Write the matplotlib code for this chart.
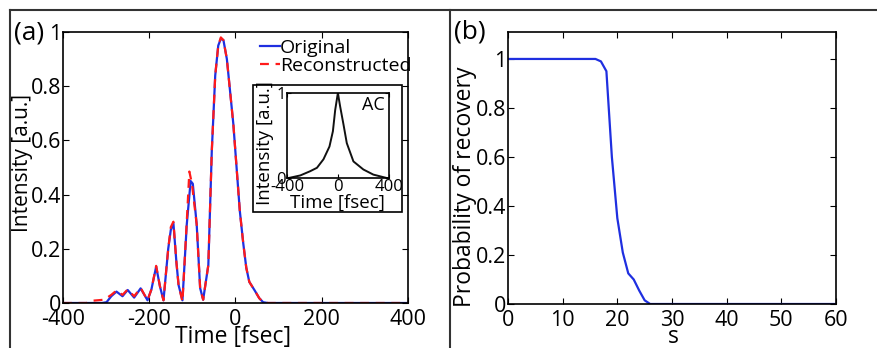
import numpy as np
import matplotlib
matplotlib.use("Agg")
import matplotlib.pyplot as plt
from matplotlib.lines import Line2D
from matplotlib.patches import Rectangle

plt.rcParams["font.family"] = ["Open Sans", "DejaVu Sans"]
plt.rcParams["axes.unicode_minus"] = False

# (a) pulse intensity, original and reconstructed
t_orig = [-400, -310, -299, -288, -276, -262, -250, -235, -220, -204, -195, -184, -175,
          -167, -156, -150, -144, -137, -132, -123, -113, -104, -99, -90, -82, -75, -63,
          -55, -47, -40, -34, -28, -20, -5, 10, 18, 25, 32, 45, 55, 64, 75, 400]
i_orig = [0, 0, 0.003, 0.025, 0.042, 0.025, 0.048, 0.02, 0.054, 0.01, 0.05, 0.134, 0.06,
          0.01, 0.2, 0.27, 0.295, 0.15, 0.066, 0.01, 0.29, 0.45, 0.44, 0.29, 0.055, 0.012, 0.14,
          0.56, 0.84, 0.95, 0.975, 0.97, 0.9, 0.66, 0.34, 0.22, 0.13, 0.078, 0.045, 0.018, 0.003, 0, 0]

t_rec = [-400, -345, -335, -305, -288, -276, -262, -250, -235, -220, -204, -195, -184, -175,
         -167, -156, -150, -144, -137, -132, -123, -113, -107, -101, -90, -82, -75, -63,
         -55, -47, -40, -34, -28, -20, -5, 10, 18, 25, 32, 45, 55, 64, 75, 400]
i_rec = [0, 0, 0.008, 0.012, 0.03, 0.046, 0.03, 0.05, 0.025, 0.056, 0.01, 0.05, 0.137, 0.06,
         0.01, 0.2, 0.28, 0.3, 0.15, 0.066, 0.005, 0.3, 0.485, 0.44, 0.29, 0.055, 0.012, 0.14,
         0.56, 0.84, 0.95, 0.98, 0.97, 0.9, 0.66, 0.34, 0.22, 0.13, 0.078, 0.045, 0.018, 0.003, 0, 0]

# inset: autocorrelation
t_ac = [-400, -387, -296, -218, -165, -114, -67, -40, -22, -1, 17, 43, 69, 121, 199, 277, 382, 400]
v_ac = [0, 0, 0.03, 0.08, 0.12, 0.22, 0.37, 0.55, 0.80, 1.0, 0.84, 0.63, 0.41, 0.195, 0.1, 0.04, 0, 0]

# (b) probability of recovery vs s
s_vals = [0, 16, 17, 18, 19, 20, 21, 22, 23, 24, 25, 26, 60]
p_rec = [1, 1, 0.99, 0.95, 0.6, 0.35, 0.21, 0.125, 0.1, 0.055, 0.015, 0, 0]

W, H = 878, 348
fig = plt.figure(figsize=(W / 100, H / 100), dpi=100)


def px_axes(left, top, right, bottom):
    return fig.add_axes([left / W, 1 - bottom / H, (right - left) / W, (bottom - top) / H])


def matlab_style(ax, size):
    ax.tick_params(direction="in", top=True, right=True, length=4, width=0.8,
                   labelsize=size, pad=2)
    for side in ["top", "right", "bottom", "left"]:
        ax.spines[side].set_linewidth(1.2)
        ax.spines[side].set_color("black")


blue = "#1f2fe0"
red = "#ff1a1a"

# panel (a)
ax = px_axes(63, 32, 408, 303)
ax.plot(t_orig, i_orig, color=blue, linewidth=1.6, label="Original")
ax.plot(t_rec, i_rec, color=red, linewidth=1.6, linestyle=(0, (4, 3)), label="Reconstructed")
ax.set_xlim(-400, 400)
ax.set_ylim(0, 1)
ax.set_xticks([-400, -200, 0, 200, 400])
ax.set_xticklabels(["-400", "-200", "0", "200", "400"])
ax.set_yticks([0, 0.2, 0.4, 0.6, 0.8, 1])
ax.set_yticklabels(["0", "0.2", "0.4", "0.6", "0.8", "1"])
matlab_style(ax, 15.5)
ax.tick_params(axis="y", pad=1)
ax.tick_params(axis="x", pad=4)
ax.set_xlabel("Time [fsec]", fontsize=16.5)
ax.set_ylabel("Intensity [a.u.]", fontsize=15)
ax.xaxis.set_label_coords(0.493, -0.125)
ax.xaxis.label.set_va("center")
ax.yaxis.set_label_coords(-0.116, 0.517)
ax.yaxis.label.set_va("center")
ax.legend(loc="upper right", bbox_to_anchor=(1.01, 0.975), frameon=False, fontsize=14,
          handlelength=1.0, handletextpad=0.0, labelspacing=0.0, borderpad=0.0,
          borderaxespad=0.0)

# inset frame and inset axes
frame = Rectangle((253 / W, 1 - 212 / H), 149 / W, 127 / H, transform=fig.transFigure,
                  facecolor="white", edgecolor="black", linewidth=1.2, zorder=1)
fig.patches.append(frame)

axin = px_axes(287, 93, 389, 178)
axin.set_zorder(2)
axin.plot(t_ac, v_ac, color="#111111", linewidth=1.4)
axin.set_xlim(-400, 400)
axin.set_ylim(0, 1)
axin.set_xticks([-400, 0, 400])
axin.set_xticklabels(["-400", "0", "400"])
axin.set_yticks([0, 1])
axin.set_yticklabels(["0", "1"])
matlab_style(axin, 12)
axin.tick_params(length=3, pad=1)
axin.set_xlabel("Time [fsec]", fontsize=13.5)
axin.set_ylabel("Intensity [a.u.]", fontsize=13.5)
axin.xaxis.set_label_coords(0.49, -0.29)
axin.xaxis.label.set_va("center")
axin.yaxis.set_label_coords(-0.215, 0.415)
axin.yaxis.label.set_va("center")
axin.text(0.96, 0.86, "AC", transform=axin.transAxes, ha="right", va="center", fontsize=13)

# panel (b)
bx = px_axes(508, 32, 836, 304)
bx.plot(s_vals, p_rec, color=blue, linewidth=1.6)
bx.set_xlim(0, 60)
bx.set_ylim(0, 1.11)
bx.set_xticks([0, 10, 20, 30, 40, 50, 60])
bx.set_yticks([0, 0.2, 0.4, 0.6, 0.8, 1])
bx.set_yticklabels(["0", "0.2", "0.4", "0.6", "0.8", "1"])
matlab_style(bx, 15.5)
bx.tick_params(axis="y", pad=1)
bx.tick_params(axis="x", pad=4)
bx.set_xlabel("s", fontsize=16.5)
bx.set_ylabel("Probability of recovery", fontsize=16.5)
bx.xaxis.set_label_coords(0.503, -0.121)
bx.xaxis.label.set_va("center")
bx.yaxis.set_label_coords(-0.131, 0.43)
bx.yaxis.label.set_va("center")

# panel letters and the outer frame lines
fig.text(14 / W, 1 - 33 / H, "(a)", ha="left", va="center", fontsize=19)
fig.text(454 / W, 1 - 32 / H, "(b)", ha="left", va="center", fontsize=19)

frame_color = "#333333"
fig.lines.append(Line2D([10 / W, 1], [1 - 10 / H, 1 - 10 / H], transform=fig.transFigure,
                        color=frame_color, linewidth=1.5))
fig.lines.append(Line2D([10 / W, 10 / W], [0, 1 - 10 / H], transform=fig.transFigure,
                        color=frame_color, linewidth=1.5))
fig.lines.append(Line2D([450 / W, 450 / W], [0, 1 - 10 / H], transform=fig.transFigure,
                        color=frame_color, linewidth=1.5))

fig.savefig("out.png", dpi=100)
